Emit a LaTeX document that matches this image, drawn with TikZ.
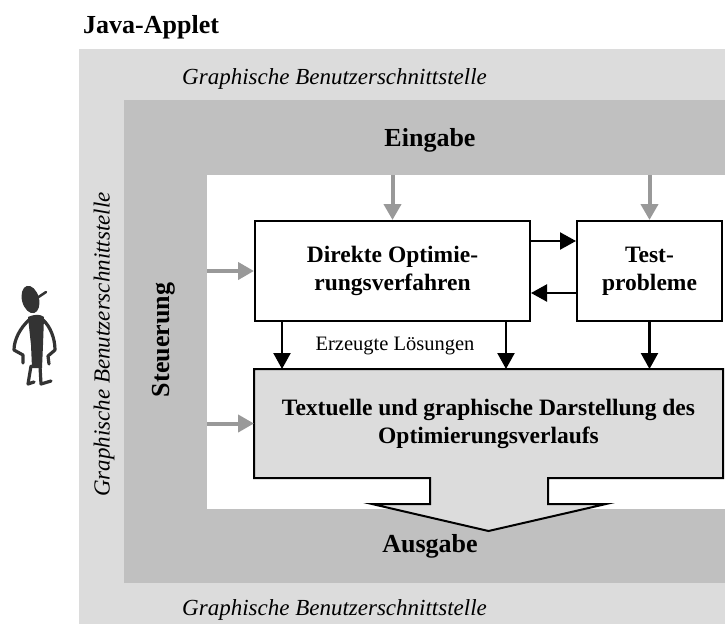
\documentclass[tikz,border=0pt]{standalone}
\usepackage{fontspec}
\setmainfont{Liberation Serif}
\usetikzlibrary{arrows.meta,backgrounds,calc}
\definecolor{panelLight}{gray}{0.863}
\definecolor{panelMid}{gray}{0.753}
\definecolor{flowGrey}{gray}{0.6}
\definecolor{figDark}{gray}{0.2}

\begin{document}
\begin{tikzpicture}[x=1pt,y=-1pt,
  region/.style={draw=none,inner sep=0pt,outer sep=0pt,anchor=north west},
  procbox/.style={draw,line width=2pt,fill=white,inner sep=2pt,align=center,
    font=\fontsize{23.5}{28}\selectfont\bfseries},
  heading/.style={inner sep=0pt,font=\fontsize{26}{30}\selectfont\bfseries},
  guilabel/.style={inner sep=0pt,font=\fontsize{23}{27}\selectfont\itshape},
  flowlabel/.style={inner sep=0pt,font=\fontsize{20.5}{24}\selectfont},
  feed/.style={draw=flowGrey,line width=4pt,-{Triangle[width=17pt,length=16pt]}},
  flow/.style={draw=black,line width=2.3pt,-{Triangle[width=17pt,length=16pt]}},
  figure/.style={figDark,line width=3.2pt,line cap=round,line join=round},
]
\useasboundingbox (0,0) rectangle (725,624);

% nested panels of the applet
\begin{scope}[on background layer]
  \node[region,fill=panelLight,minimum width=646pt,minimum height=575pt] (gui) at (79,49) {};
  \node[region,fill=panelMid,minimum width=601pt,minimum height=483pt] (io) at (124,100) {};
  \node[region,fill=white,minimum width=518pt,minimum height=334pt] (core) at (207,175) {};
\end{scope}

% titles
\node[heading,anchor=base west] (applet) at (83,33) {Java-Applet};
\node[guilabel,anchor=base west] (guiTop) at (182,84) {Graphische Benutzerschnittstelle};
\node[guilabel,anchor=base west] (guiBot) at (182,615) {Graphische Benutzerschnittstelle};
\node[guilabel,rotate=90] (guiLeft) at (104,344.5) {Graphische Benutzerschnittstelle};
\node[heading,anchor=base] (inLbl) at (430,146) {Eingabe};
\node[heading,anchor=base] (outLbl) at (430,552) {Ausgabe};
\node[heading,rotate=90] (ctlLbl) at (164,340) {Steuerung};

% processing blocks
\node[procbox,minimum width=275pt,minimum height=100pt] (dir) at (392.5,271)
  {Direkte Optimie-\\rungsverfahren};
\node[procbox,minimum width=145pt,minimum height=100pt] (test) at (649.5,271)
  {Test-\\probleme};
\node[procbox,draw=none,fill=none,minimum width=467pt,minimum height=107pt] (out) at (488.5,423.5)
  {Textuelle und graphische Darstellung des\\Optimierungsverlaufs};

% output block outline with its arrow into the output band
\begin{scope}[on background layer]
  \draw[line width=2pt,fill=panelLight,line join=miter]
    (out.north west) -- (out.north east) -- (out.south east)
    -- ([xshift=-175pt]out.south east) -- ++(0,26) -- ++(58,0)
    -- ([yshift=-53pt]out.south) -- ++(-116.5,-27) -- ++(58,0) -- ++(0,-26)
    -- (out.south west) -- cycle;
\end{scope}

% input and control feeds
\draw[feed] (dir.north |- core.north) -- (dir.north);
\draw[feed] (test.north |- core.north) -- (test.north);
\draw[feed] (core.west |- dir.west) -- (dir.west);
\draw[feed] (core.west |- out.west) -- (out.west);

% data flow between blocks
\draw[flow] ([yshift=30pt]dir.east) -- ([yshift=30pt]dir.east -| test.west);
\draw[flow] ([yshift=-22pt]test.west) -- ([yshift=-22pt]test.west -| dir.east);
\draw[flow] ([xshift=28pt]dir.south west) -- ([xshift=28pt]dir.south west |- out.north);
\draw[flow] ([xshift=-25pt]dir.south east) -- ([xshift=-25pt]dir.south east |- out.north);
\draw[flow] (test.south) -- (test.south |- out.north);
\node[flowlabel,anchor=base] (sol) at (395,350) {Erzeugte Lösungen};

% the user
\fill[figDark,rotate around={15:(30.5,299.5)}] (30.5,299.5) ellipse [x radius=8.5, y radius=14];
\draw[figDark,line width=2.5pt,line cap=round] (37,298) -- (46,292);
\fill[figDark] (28,317) .. controls (35,314) and (40,314) .. (44,317)
  -- (43,345) -- (42,368) -- (32,368) -- (31,345) -- cycle;
\draw[figure] (29,320) .. controls (20,328) and (14,340) .. (14,350) -- (23,355) -- (23,363);
\draw[figure] (43,320) .. controls (50,326) and (55,338) .. (55,350) -- (48,356) -- (49,364);
\draw[figure] (31,366) -- (28,384) -- (34,382);
\draw[figure] (40,366) -- (41,384) -- (51,381);
\end{tikzpicture}
\end{document}
